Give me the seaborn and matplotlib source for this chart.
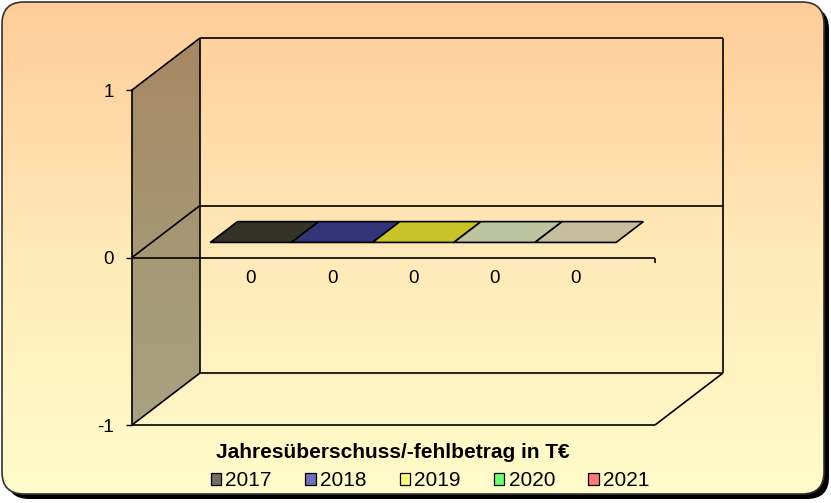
import numpy as np
import pandas as pd
import seaborn as sns
import matplotlib.pyplot as plt
from matplotlib.patches import FancyBboxPatch, Polygon, Patch
from matplotlib.colors import LinearSegmentedColormap

# ---- data ----
years = ['2017', '2018', '2019', '2020', '2021']
values = [0, 0, 0, 0, 0]
category = 'Jahresüberschuss/-fehlbetrag in T€'
y_ticks = [-1, 0, 1]
face_colors = ['#333328', '#333378', '#C8C328', '#BCC4A0', '#C5BF9E']
legend_colors = ['#6E6E62', '#7070B8', '#FFFF7A', '#70FF70', '#FF7878']

df = pd.DataFrame({'category': [category] * len(years), 'year': years, 'value': values})

sns.set_style('ticks')
plt.rcParams['font.family'] = ['Liberation Sans', 'DejaVu Sans']

W, H = 831, 503
fig = plt.figure(figsize=(W / 100, H / 100), dpi=100)

# background axes in pixel coordinates (origin bottom-left)
bg = fig.add_axes([0, 0, 1, 1])
bg.set_xlim(0, W)
bg.set_ylim(0, H)
bg.axis('off')

# shadow + rounded gradient frame
shadow = FancyBboxPatch((7, 4), 822, 492, boxstyle='round,pad=0,rounding_size=22',
                        facecolor='black', edgecolor='none', zorder=0)
bg.add_patch(shadow)
frame = FancyBboxPatch((2, 9), 822, 492, boxstyle='round,pad=0,rounding_size=22',
                       facecolor='none', edgecolor='#333333', lw=1.2, zorder=3)
bg.add_patch(frame)
grad_cmap = LinearSegmentedColormap.from_list('bgg', ['#FFFCCB', '#FFE9B8', '#FFCC99'])
grad = np.linspace(0, 1, 256).reshape(-1, 1)
im = bg.imshow(grad, extent=(2, 824, 9, 501), origin='lower', cmap=grad_cmap,
               aspect='auto', zorder=1)
clipbox = FancyBboxPatch((2, 9), 822, 492, boxstyle='round,pad=0,rounding_size=22',
                         facecolor='none', edgecolor='none', transform=bg.transData)
im.set_clip_path(clipbox)

# main axes: front plane of the 3D box
L, B, R, T = 132, 78, 655, 413
ax = fig.add_axes([L / W, B / H, (R - L) / W, (T - B) / H])
ax.patch.set_alpha(0)
sns.barplot(data=df, x='category', y='value', hue='year', palette=legend_colors,
            width=0.776, errorbar=None, legend=False, ax=ax, linewidth=0)
ax.set_xlim(-0.5, 0.5)
ax.set_ylim(-1, 1)
ax.set_xticks([])
ax.set_xlabel('')
ax.set_ylabel('')
ax.set_yticks(y_ticks)
ax.set_yticklabels([str(t) for t in y_ticks])
for s in ['top', 'right', 'bottom']:
    ax.spines[s].set_visible(False)
ax.spines['left'].set_color('black')
ax.spines['left'].set_linewidth(1.2)
ax.tick_params(axis='y', direction='out', length=4, width=1, pad=9, labelsize=13.5,
               colors='black')
ax.axhline(0, color='black', lw=1.2)

DX, DY = 68, 52
zero_y = ax.transData.transform((0, 0))[1]

# left wall gradient
wall = [(L, T), (L + DX, T + DY), (L + DX, B + DY), (L, B)]
wall_cmap = LinearSegmentedColormap.from_list('wall', ['#A6A383', '#A68863'])
wim = bg.imshow(grad, extent=(L, L + DX, B, T + DY), origin='lower', cmap=wall_cmap,
                aspect='auto', zorder=2)
wpoly = Polygon(wall, closed=True, facecolor='none', edgecolor='none', transform=bg.transData)
wim.set_clip_path(wpoly)

lk = dict(color='black', lw=1.2, zorder=4, solid_capstyle='butt')
segs = [
    [(L, T), (L + DX, T + DY)],
    [(L + DX, T + DY), (R + DX, T + DY)],
    [(R + DX, T + DY), (R + DX, B + DY)],
    [(L + DX, T + DY), (L + DX, B + DY)],
    [(L + DX, B + DY), (R + DX, B + DY)],
    [(L, B), (R, B)],
    [(R, B), (R + DX, B + DY)],
    [(L, B), (L + DX, B + DY)],
    [(L, zero_y), (L + DX, zero_y + DY)],
    [(L + DX, zero_y + DY), (R + DX, zero_y + DY)],
    [(R, zero_y), (R, zero_y - 5)],
]
for (x0, y0), (x1, y1) in segs:
    bg.plot([x0, x1], [y0, y1], **lk)

# flat bars (top faces of zero-height bars)
d0, d1 = 0.29, 0.69
bars = sorted(ax.patches, key=lambda p: p.get_x())
for p, fc, v in zip(bars, face_colors, values):
    (X0, Y), = ax.transData.transform([(p.get_x(), v)])
    X1 = ax.transData.transform((p.get_x() + p.get_width(), v))[0]
    pts = [(X0 + d0 * DX, Y + d0 * DY), (X1 + d0 * DX, Y + d0 * DY),
           (X1 + d1 * DX, Y + d1 * DY), (X0 + d1 * DX, Y + d1 * DY)]
    bg.add_patch(Polygon(pts, closed=True, facecolor=fc, edgecolor='black', lw=1.2, zorder=5))
    cx = (X0 + X1) / 2 + d0 * DX
    bg.text(cx, zero_y - 21, f'{v:g}', ha='center', va='center', fontsize=13.5,
            color='black', zorder=6)

# category label and legend
fig.text(393 / W, 1 - 452 / H, category, ha='center', va='center',
         fontsize=15, fontweight='bold', color='black')
handles = [Patch(facecolor=c, edgecolor='black', lw=0.9) for c in legend_colors]
leg = fig.legend(handles, years, loc='center', bbox_to_anchor=(430 / W, 1 - 481 / H), ncol=5,
                 frameon=False, fontsize=15, handlelength=0.5, handleheight=0.5,
                 handletextpad=0.2, columnspacing=1.6, borderpad=0)
for t in leg.get_texts():
    t.set_color('black')

fig.savefig('out.png', dpi=100)
